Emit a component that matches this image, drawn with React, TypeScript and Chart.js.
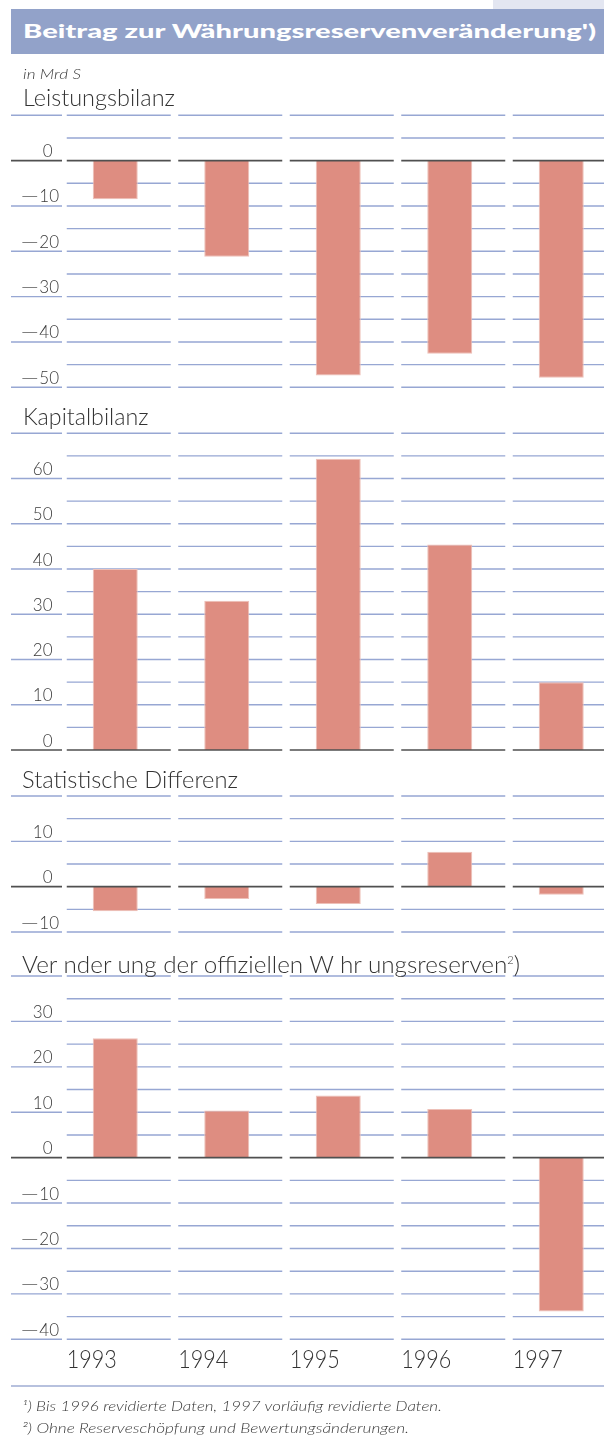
import React, { useEffect, useLayoutEffect, useRef, useState } from "react";
import { Chart, registerables } from "chart.js";

Chart.register(...registerables);

// ---------- data ----------
const YEARS = ["1993", "1994", "1995", "1996", "1997"];
const LEISTUNGSBILANZ = [-8.5, -21.2, -47.4, -42.6, -47.9];
const KAPITALBILANZ = [40.0, 33.0, 64.4, 45.4, 15.0];
const STAT_DIFFERENZ = [-5.4, -2.7, -3.8, 7.7, -1.8];
const RESERVEN = [26.3, 10.4, 13.7, 10.7, -33.9];

const TICKS_LB = [0, -10, -20, -30, -40, -50];
const TICKS_KB = [0, 10, 20, 30, 40, 50, 60];
const TICKS_SD = [10, 0, -10];
const TICKS_RV = [30, 20, 10, 0, -10, -20, -30, -40];

const TITLE = "Beitrag zur Währungsreservenveränderung')";
const UNIT = "in Mrd S";
const PANEL_TITLES = [
  "Leistungsbilanz",
  "Kapitalbilanz",
  "Statistische Differenz",
  "Ver nder ung der offiziellen W hr ungsreserven",
];
const FOOTNOTES = [
  "¹) Bis 1996 revidierte Daten, 1997 vorläufig revidierte Daten.",
  "²) Ohne Reserveschöpfung und Bewertungsänderungen.",
];

// ---------- style ----------
const CW = 620;
const BAR = "#DE8D81";
const BAR_EDGE = "#EDC0B8";
const GRID = "#97A7D3";
const ZERO = "#505050";
const TXT = "#333333";
const LATO = "Lato, 'Open Sans', sans-serif";

type PanelCfg = {
  values: number[];
  ticks: number[];
  min: number;
  max: number;
  top: number;
  bottom: number;
  topLine: number;
  bottomLine: number;
  years?: boolean;
};

const PANELS: PanelCfg[] = [
  { values: LEISTUNGSBILANZ, ticks: TICKS_LB, min: -50, max: 10, top: 60, bottom: 400, topLine: 115.3, bottomLine: 387.3 },
  { values: KAPITALBILANZ, ticks: TICKS_KB, min: 0, max: 70, top: 400, bottom: 765, topLine: 433.3, bottomLine: 750 },
  { values: STAT_DIFFERENZ, ticks: TICKS_SD, min: -10, max: 20, top: 765, bottom: 945, topLine: 796, bottomLine: 932 },
  { values: RESERVEN, ticks: TICKS_RV, min: -40, max: 40, top: 945, bottom: 1395, topLine: 976, bottomLine: 1339.3, years: true },
];

function makePlugin(cfg: PanelCfg) {
  return {
    id: "panelGrid",
    beforeDatasetsDraw(chart: any) {
      const ctx = chart.ctx;
      const xs = chart.scales.x;
      const ys = chart.scales.y;
      ctx.save();
      ctx.strokeStyle = GRID;
      ctx.lineWidth = 1.4;
      for (let v = cfg.min; v <= cfg.max; v += 5) {
        if (v === 0) continue;
        const py = ys.getPixelForValue(v);
        ctx.beginPath();
        for (let i = 0; i < YEARS.length; i++) {
          const c = xs.getPixelForValue(i);
          ctx.moveTo(c - 48.5, py);
          ctx.lineTo(c + 55.5, py);
        }
        if (v % 10 === 0) {
          ctx.moveTo(11, py);
          ctx.lineTo(62, py);
        }
        ctx.stroke();
      }
      ctx.restore();
    },
    afterDatasetsDraw(chart: any) {
      const ctx = chart.ctx;
      const xs = chart.scales.x;
      const ys = chart.scales.y;
      ctx.save();
      // zero line
      const pz = ys.getPixelForValue(0);
      ctx.strokeStyle = ZERO;
      ctx.lineWidth = 1.6;
      ctx.beginPath();
      ctx.moveTo(11, pz);
      ctx.lineTo(62, pz);
      for (let i = 0; i < YEARS.length; i++) {
        const c = xs.getPixelForValue(i);
        ctx.moveTo(c - 48.5, pz);
        ctx.lineTo(c + 55.5, pz);
      }
      ctx.stroke();
      // tick labels
      ctx.fillStyle = "#3a3a3a";
      ctx.font = "300 17px " + LATO;
      ctx.textBaseline = "alphabetic";
      for (const t of cfg.ticks) {
        const py = ys.getPixelForValue(t) - 3.5;
        const num = String(Math.abs(t));
        if (t < 0) {
          ctx.textAlign = "right";
          ctx.fillText(num, 59, py);
          const nw = ctx.measureText(num).width;
          const dw = ctx.measureText("\u2014").width;
          const s = dw > 0 ? 18 / dw : 1;
          ctx.save();
          ctx.translate(59 - nw - 0.5, py);
          ctx.scale(s, 1);
          ctx.fillText("\u2014", 0, 0);
          ctx.restore();
        } else {
          ctx.textAlign = "right";
          ctx.fillText(num, 52.5, py);
        }
      }
      // year labels
      if (cfg.years) {
        ctx.font = "300 25px " + LATO;
        ctx.textAlign = "left";
        ctx.fillStyle = TXT;
        const by = 1368 - cfg.top;
        for (let i = 0; i < YEARS.length; i++) {
          const c = xs.getPixelForValue(i);
          const w = ctx.measureText(YEARS[i]).width;
          const s = w > 0 ? 50 / w : 1;
          ctx.save();
          ctx.translate(c - 48.5, by);
          ctx.scale(s, 1);
          ctx.fillText(YEARS[i], 0, 0);
          ctx.restore();
        }
      }
      ctx.restore();
    },
  };
}

function Panel({ cfg }: { cfg: PanelCfg }) {
  const ref = useRef<HTMLCanvasElement>(null);
  const h = cfg.bottom - cfg.top;
  useEffect(() => {
    const chart = new Chart(ref.current as HTMLCanvasElement, {
      type: "bar",
      data: {
        labels: YEARS,
        datasets: [
          {
            data: cfg.values,
            backgroundColor: BAR,
            borderColor: BAR_EDGE,
            borderWidth: 1,
            barPercentage: 45 / 111.5,
            categoryPercentage: 1,
          },
        ],
      },
      options: {
        responsive: false,
        animation: false,
        devicePixelRatio: 1,
        layout: {
          padding: {
            left: 59.5,
            right: CW - 617,
            top: cfg.topLine - cfg.top,
            bottom: cfg.bottom - cfg.bottomLine,
          },
        },
        scales: {
          x: { display: false },
          y: { display: false, min: cfg.min, max: cfg.max },
        },
        plugins: {
          legend: { display: false },
          tooltip: { enabled: false },
        },
      },
      plugins: [makePlugin(cfg)],
    } as any);
    return () => chart.destroy();
  }, []);
  return (
    <canvas
      ref={ref}
      width={CW}
      height={h}
      style={{ position: "absolute", left: 0, top: cfg.top, width: CW, height: h, display: "block" }}
    />
  );
}

function FitText(props: {
  x: number;
  baseline: number;
  size: number;
  width: number;
  family?: string;
  weight?: number | string;
  italic?: boolean;
  color?: string;
  ascent?: number;
  children: React.ReactNode;
}) {
  const ref = useRef<HTMLSpanElement>(null);
  const [sx, setSx] = useState(1);
  useLayoutEffect(() => {
    if (ref.current) {
      const w = ref.current.getBoundingClientRect().width;
      if (w > 0) setSx(props.width / w);
    }
  }, []);
  const asc = props.ascent ?? 0.887;
  return (
    <div
      style={{
        position: "absolute",
        left: props.x,
        top: props.baseline - asc * props.size,
        fontFamily: props.family ?? LATO,
        fontSize: props.size,
        fontWeight: props.weight ?? 300,
        fontStyle: props.italic ? "italic" : "normal",
        color: props.color ?? TXT,
        lineHeight: props.size + "px",
        whiteSpace: "nowrap",
        transformOrigin: "0 0",
        transform: `scaleX(${sx})`,
      }}
    >
      <span ref={ref}>{props.children}</span>
    </div>
  );
}

export default function App() {
  return (
    <div
      style={{
        position: "absolute",
        left: 0,
        top: 0,
        width: 604,
        height: 1448,
        overflow: "hidden",
        background: "#ffffff",
      }}
    >
      <div style={{ position: "absolute", left: 493, top: 0, width: 111, height: 9, background: "#E3E6F1" }} />
      <div style={{ position: "absolute", left: 11, top: 9, width: 593, height: 45, background: "#92A2C9" }} />
      {PANELS.map((p, i) => (
        <Panel key={i} cfg={p} />
      ))}
      <div style={{ position: "absolute", left: 11, top: 1385, width: 593, height: 2, background: "#B7C1DE" }} />

      <FitText x={23} baseline={37.5} size={19} width={573} weight={900} color="#ffffff">
        {TITLE}
      </FitText>
      <FitText x={23} baseline={79} size={14} width={58} italic color="#3a3a3a">
        {UNIT}
      </FitText>
      <FitText x={22.7} baseline={106.7} size={24} width={152}>
        {PANEL_TITLES[0]}
      </FitText>
      <FitText x={22.7} baseline={425} size={24} width={125.5}>
        {PANEL_TITLES[1]}
      </FitText>
      <FitText x={22.3} baseline={788} size={24} width={216}>
        {PANEL_TITLES[2]}
      </FitText>
      <FitText x={22.3} baseline={969} size={24} width={498}>
        {PANEL_TITLES[3]}
        <span style={{ fontSize: 11, verticalAlign: "9px" }}>2</span>)
      </FitText>
      <FitText x={22} baseline={1412} size={14.5} width={420} italic color="#3a3a3a">
        {FOOTNOTES[0]}
      </FitText>
      <FitText x={22} baseline={1434} size={14.5} width={387} italic color="#3a3a3a">
        {FOOTNOTES[1]}
      </FitText>
    </div>
  );
}
